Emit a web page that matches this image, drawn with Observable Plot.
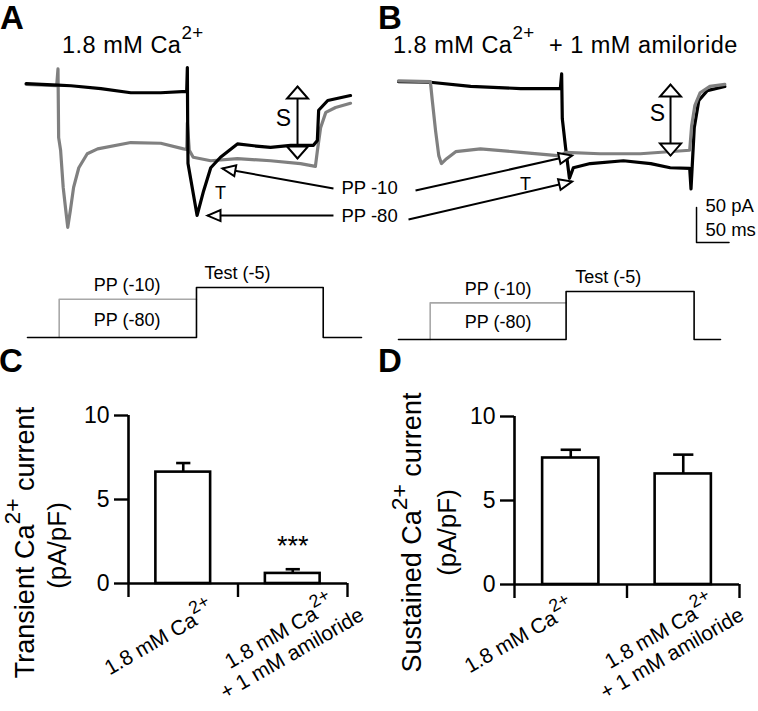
<!DOCTYPE html>
<html>
<head>
<meta charset="utf-8">
<script src="https://cdn.jsdelivr.net/npm/d3@7"></script>
<script src="https://cdn.jsdelivr.net/npm/@observablehq/plot@0.6"></script>
<style>
html,body{margin:0;padding:0;background:#fff;}
#fig{position:relative;width:758px;height:711px;overflow:hidden;background:#fff;font-family:"Liberation Sans",Arial,Helvetica,sans-serif;color:#000;}
#fig > *{position:absolute;}
.letter{font-weight:bold;font-size:33px;line-height:33px;}
.title{font-size:23.5px;line-height:24px;white-space:nowrap;letter-spacing:0.5px;}
.title sup{font-size:0.8em;vertical-align:baseline;position:relative;top:-0.72em;}
</style>
</head>
<body>
<div id="fig">
  <div class="letter" style="left:0px;top:1px">A</div>
  <div class="letter" style="left:378px;top:1px">B</div>
  <div class="letter" style="left:-1px;top:344px">C</div>
  <div class="letter" style="left:378px;top:344px">D</div>
  <div class="title" style="left:62px;top:33px">1.8 mM Ca<sup>2+</sup></div>
  <div class="title" style="left:393px;top:33px">1.8 mM Ca<sup>2+</sup>&nbsp;&nbsp;+ 1 mM amiloride</div>
</div>
<script>
// ---------------- data ----------------
// Current traces [time (ms), current (pA)]; prepulse starts at 0 ms, test pulse 200–400 ms
const traceA_pp80 = [[-49,1],[-25,0],[0,-1],[20,-2],[66,-6],[112,-12],[158,-12],[198,-10],[199,24],[199.5,-55],[200,-113],[214,-187],[224,-152],[235,-119],[250,-104],[276,-85],[305,-88],[327,-90],[358,-87],[393,-87],[399,-80],[401,-37],[415,-23],[450,-16]];
const traceA_pp10 = [[-49,0],[-2,-2],[0,22],[1,-76],[4,-94],[8,-147],[12,-180],[15,-204],[19,-180],[24,-147],[32,-119],[45,-99],[61,-92],[112,-83],[158,-84],[193,-92],[198,-93],[199,-55],[202,-94],[208,-104],[235,-109],[276,-106],[327,-109],[373,-113],[396,-117],[399,-95],[404,-62],[412,-40],[427,-33],[450,-27]];
const traceB_pp80 = [[-50,1],[-1,0],[61,-6],[138,-9],[199,-9],[201,12],[202,-52],[207,-93],[213,-137],[219,-122],[245,-116],[296,-112],[338,-116],[368,-122],[398,-123],[400,-152],[405,-65],[412,-26],[425,-12],[452,-6]];
const traceB_pp10 = [[-50,2],[-1,1],[2,-26],[7,-69],[12,-105],[16,-116],[24,-109],[38,-99],[76,-95],[138,-100],[199,-105],[207,-100],[260,-102],[322,-102],[398,-97],[401,-62],[406,-33],[414,-15],[429,-6],[452,-3]];

// Annotation arrows (data units: ms, pA)
const ppArrowsA = [
  {name: "PP -10", t0: 423.8, i0: -148.6, t1: 253, i1: -120},
  {name: "PP -80", t0: 423.8, i0: -187.2, t1: 230, i1: -187.2}
];
const ppArrowsB = [
  {name: "PP -10", t0: -23.8, i0: -154.5, t1: 216.9, i1: -104.6},
  {name: "PP -80", t0: -34.6, i0: -195.9, t1: 216.9, i1: -141.7}
];
const sArrowA = {t: 368.5, top: -3.1, bottom: -105.8};
const sArrowB = {t: 368.5, top: -3.3, bottom: -104.6};
const letterLabelsA = [{text: "S", t: 346.9, i: -48.8, size: 23}, {text: "T", t: 250, i: -155.8, size: 18}];
const letterLabelsB = [{text: "S", t: 348.5, i: -44.6, size: 23}, {text: "T", t: 145.4, i: -146, size: 18}];
const scaleBarB = [[408.5, -178.7], [408.5, -228.7], [458.5, -228.7]]; // 50 pA, 50 ms
const scaleLabelsB = [{text: "50 pA", t: 422.3, i: -176}, {text: "50 ms", t: 422.3, i: -211.5}];

// Voltage protocols [time (ms), voltage (mV)] as drawn
const protoA_pp80 = [[-48,-80],[208,-80],[208,-5],[400,-5],[400,-80],[458,-80]];
const protoA_pp10 = [[0,-80],[0,-10],[208,-10]];
const protoB_pp80 = [[-48,-80],[206,-80],[206,-5],[400,-5],[400,-80],[440,-80]];
const protoB_pp10 = [[0,-80],[0,-10],[206,-10]];
const protoLabels = [{text: "PP (-10)", t: 103, v: -10}, {text: "PP (-80)", t: 103, v: -80}, {text: "Test (-5)", t: 270, v: -5}];
const protoLevels = [-80, -10, -5];   // drawn (not to scale) as 0, 38, 50 % steps
const protoDrawn = [0, 38.2, 50];

// Bar charts
const categories = ["1.8 mM Ca2+", "1.8 mM Ca2+\n+ 1 mM amiloride"];
const transientMean = [6.63, 0.6];
const transientSEM = [0.54, 0.25];
const transientSig = ["", "***"];
const sustainedMean = [7.53, 6.58];
const sustainedSEM = [0.49, 1.15];
const sustainedSig = ["", ""];
const yTicks = [0, 5, 10];

// ---------------- helpers ----------------
const FONT = '"Liberation Sans", Arial, Helvetica, sans-serif';
const baseStyle = {fontFamily: FONT, background: "transparent", overflow: "visible", color: "black"};
const fig = document.getElementById("fig");
function put(node, left, top) { node.style.left = left + "px"; node.style.top = top + "px"; fig.appendChild(node); return node; }

const PX_MS = 0.65, PX_PA = 0.701;
const headAngle = a => Math.atan2((a.t1 - a.t0) * PX_MS, (a.i1 - a.i0) * PX_PA) * 180 / Math.PI;
const headS = {draw(c) { c.moveTo(0, 0); c.lineTo(10.5, 12); c.lineTo(-10.5, 12); c.closePath(); }};
const headP = {draw(c) { c.moveTo(0, 0); c.lineTo(5.5, 13); c.lineTo(-5.5, 13); c.closePath(); }};
const schematic = d3.scaleLinear().domain(protoLevels).range(protoDrawn);

function supify(svg) {
  const ns = "http://www.w3.org/2000/svg";
  svg.querySelectorAll("text, tspan").forEach(el => {
    if (![...el.childNodes].every(n => n.nodeType === 3)) return;
    const s = el.textContent;
    if (!s.includes("Ca2+")) return;
    el.textContent = "";
    s.split("Ca2+").forEach((p, k) => {
      if (k > 0) {
        el.appendChild(document.createTextNode("Ca"));
        const t = document.createElementNS(ns, "tspan");
        t.setAttribute("baseline-shift", "0.62em");
        t.setAttribute("font-size", "0.85em");
        t.textContent = "2+";
        el.appendChild(t);
      }
      if (p) el.appendChild(document.createTextNode(p));
    });
  });
  return svg;
}

function tracePlot({gray, black, grayFirst, ppArrows, sArrow, letters, ppText, scaleBar, scaleLabels, marginLeft, marginRight, width, yDomain}) {
  const g = Plot.line(gray, {x: d => d[0], y: d => d[1], stroke: "#808080", strokeWidth: 3.2});
  const b = Plot.line(black, {x: d => d[0], y: d => d[1], stroke: "#000", strokeWidth: 3.2});
  const marks = grayFirst ? [g, b] : [b, g];
  marks.push(
    Plot.link(ppArrows, {x1: "t0", y1: "i0", x2: "t1", y2: "i1", stroke: "black", strokeWidth: 2}),
    Plot.dot(ppArrows, {x: "t1", y: "i1", symbol: headP, rotate: headAngle, fill: "white", stroke: "black", strokeWidth: 2}),
    Plot.link([sArrow], {x1: "t", x2: "t", y1: "top", y2: "bottom", stroke: "black", strokeWidth: 2}),
    Plot.dot([sArrow], {x: "t", y: "top", symbol: headS, fill: "white", stroke: "black", strokeWidth: 2}),
    Plot.dot([sArrow], {x: "t", y: "bottom", symbol: headS, rotate: 180, fill: "white", stroke: "black", strokeWidth: 2}),
    Plot.text(letters.filter(d => d.size > 20), {x: "t", y: "i", text: "text", fontSize: 23, lineAnchor: "middle"}),
    Plot.text(letters.filter(d => d.size <= 20), {x: "t", y: "i", text: "text", fontSize: 18, lineAnchor: "middle"})
  );
  if (ppText) marks.push(Plot.text(ppArrows, {x: "t0", y: "i0", text: "name", dx: 8, textAnchor: "start", lineAnchor: "middle", fontSize: 18.5}));
  if (scaleBar) marks.push(
    Plot.line(scaleBar, {x: d => d[0], y: d => d[1], stroke: "black", strokeWidth: 1.5}),
    Plot.text(scaleLabels, {x: "t", y: "i", text: "text", textAnchor: "start", lineAnchor: "middle", fontSize: 18.5})
  );
  return Plot.plot({
    width, height: 190, marginLeft, marginRight, marginTop: 0, marginBottom: 0,
    x: {domain: [-50, 450], axis: null},
    y: {domain: yDomain, axis: null},
    style: baseStyle,
    marks
  });
}

function protoPlot({pp80, pp10, width, marginLeft, marginRight, marginTop, marginBottom, xDomain}) {
  const lab = protoLabels;
  return Plot.plot({
    width, height: 80, marginLeft, marginRight, marginTop, marginBottom,
    x: {domain: xDomain, axis: null},
    y: {domain: [0, 50], axis: null},
    style: baseStyle,
    marks: [
      Plot.line(pp10, {x: d => d[0], y: d => schematic(d[1]), stroke: "#a8a8a8", strokeWidth: 1.6}),
      Plot.line(pp80, {x: d => d[0], y: d => schematic(d[1]), stroke: "#000", strokeWidth: 1.6}),
      Plot.text(lab.filter(d => d.v !== -80), {x: "t", y: d => schematic(d.v), text: "text", fontSize: 18, dy: -14, lineAnchor: "middle"}),
      Plot.text(lab.filter(d => d.v === -80), {x: "t", y: d => schematic(d.v), text: "text", fontSize: 18, dy: -17, lineAnchor: "middle"})
    ]
  });
}

function barPlot({mean, sem, sig, ylabel, width, marginLeft, marginRight, marginTop, marginBottom, cap, catPos, yLab}) {
  const rows = categories.map((c, i) => ({i, c, m: mean[i], s: sem[i], sig: sig[i]}));
  const marks = [
    Plot.rect(rows, {x1: d => d.i + 0.25, x2: d => d.i + 0.75, y1: 0, y2: "m", fill: "white", stroke: "black", strokeWidth: 2.6}),
    Plot.ruleX(rows, {x: d => d.i + 0.5, y1: "m", y2: d => d.m + d.s, stroke: "black", strokeWidth: 2.6}),
    Plot.link(rows, {x1: d => d.i + 0.5 - cap, x2: d => d.i + 0.5 + cap, y1: d => d.m + d.s, y2: d => d.m + d.s, stroke: "black", strokeWidth: 2.6}),
    Plot.ruleX([0], {y1: 0, y2: 10, stroke: "black", strokeWidth: 2.6}),
    Plot.ruleY([0], {x1: 0, x2: 2, stroke: "black", strokeWidth: 2.6}),
    Plot.axisY({ticks: yTicks, tickSize: 14, tickFormat: () => "", strokeWidth: 2.4}),
    Plot.text(yTicks, {x: 0, y: d => d, text: d => String(d), textAnchor: "end", lineAnchor: "middle", dx: -19, fontSize: 23}),
    Plot.axisX({ticks: [0, 1, 2], tickSize: 14, tickFormat: () => "", strokeWidth: 2.4}),
    Plot.text(rows.filter(d => d.sig), {x: d => d.i + 0.5, y: d => d.m + d.s, text: "sig", dy: -14, lineAnchor: "bottom", fontSize: 27}),
    Plot.text([ylabel], {frameAnchor: "left", rotate: -90, textAnchor: "middle", lineAnchor: "middle", fontSize: 27, dx: yLab[0], dy: yLab[1]}),
    Plot.text(["(pA/pF)"], {frameAnchor: "left", rotate: -90, textAnchor: "middle", lineAnchor: "middle", fontSize: 26, dx: yLab[2], dy: yLab[3]})
  ];
  rows.forEach((r, k) => marks.push(
    Plot.text([r], {x: () => catPos[k][0], y: () => 0, text: "c", dy: catPos[k][1], rotate: -30, textAnchor: "middle", lineAnchor: "middle", fontSize: 21, lineHeight: 1.15})
  ));
  return supify(Plot.plot({
    width, height: 321, marginLeft, marginRight, marginTop, marginBottom,
    x: {domain: [0, 2], label: null},
    y: {domain: [0, 10], label: null},
    style: baseStyle,
    marks
  }));
}

// ---------------- build ----------------
put(tracePlot({gray: traceA_pp10, black: traceA_pp80, grayFirst: true, ppArrows: ppArrowsA, sArrow: sArrowA,
  letters: letterLabelsA, ppText: true, scaleBar: null, marginLeft: 25, marginRight: 30, width: 380, yDomain: [-237, 34]}), 0, 60);
put(tracePlot({gray: traceB_pp10, black: traceB_pp80, grayFirst: false, ppArrows: ppArrowsB, sArrow: sArrowB,
  letters: letterLabelsB, ppText: false, scaleBar: scaleBarB, scaleLabels: scaleLabelsB, marginLeft: 18, marginRight: 35, width: 378, yDomain: [-240, 31]}), 380, 60);

put(protoPlot({pp80: protoA_pp80, pp10: protoA_pp10, width: 380, marginLeft: 27, marginRight: 19, marginTop: 17, marginBottom: 13, xDomain: [-48, 458]}), 0, 270);
put(protoPlot({pp80: protoB_pp80, pp10: protoB_pp10, width: 378, marginLeft: 18, marginRight: 38, marginTop: 21, marginBottom: 11, xDomain: [-48, 440]}), 380, 270);

put(barPlot({mean: transientMean, sem: transientSEM, sig: transientSig, ylabel: "Transient Ca2+ current",
  width: 380, marginLeft: 128, marginRight: 33, marginTop: 25, marginBottom: 128, cap: 0.065,
  catPos: [[0.279, 54.6], [1.434, 58.8]], yLab: [-103, 43, -71, 46]}), 0, 390);
put(barPlot({mean: sustainedMean, sem: sustainedSEM, sig: sustainedSig, ylabel: "Sustained Ca2+ current",
  width: 378, marginLeft: 134, marginRight: 19, marginTop: 26, marginBottom: 127, cap: 0.09,
  catPos: [[0.041, 51.6], [1.342, 57.8]], yLab: [-102, 32, -67, 32]}), 380, 390);
</script>
</body>
</html>
